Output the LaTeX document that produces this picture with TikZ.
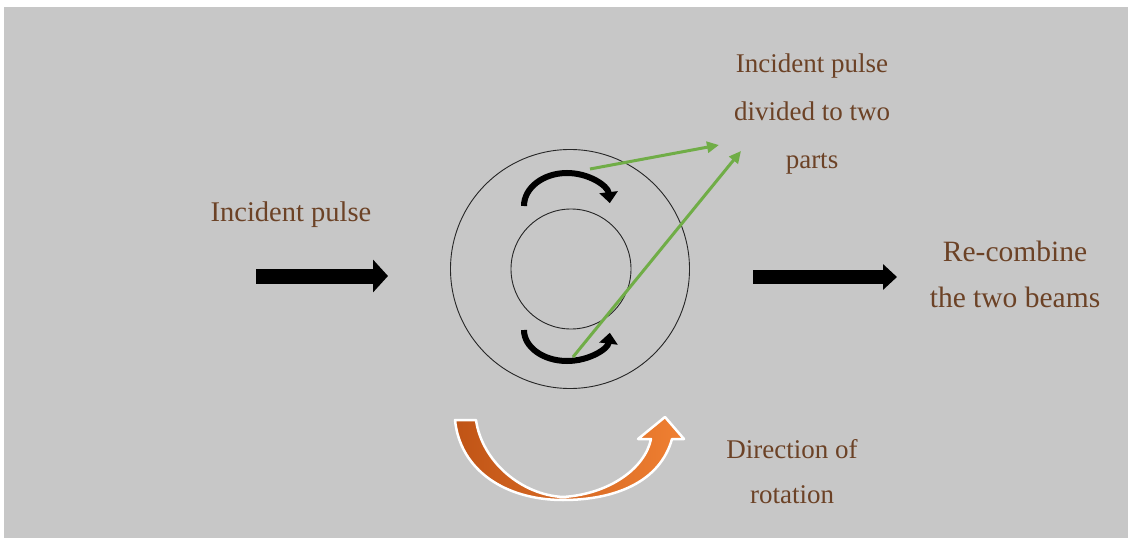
\documentclass[tikz,border=0pt]{standalone}
\usepackage{fontspec}
\setmainfont{Liberation Serif}
\usetikzlibrary{arrows.meta}
\definecolor{bggray}{RGB}{199,199,199}
\definecolor{txtbrown}{RGB}{108,66,38}
\definecolor{beamgreen}{RGB}{112,173,71}
\definecolor{orgdark}{RGB}{192,84,22}
\definecolor{orglight}{RGB}{240,128,50}
\tikzset{
  lbl/.style={text=txtbrown, anchor=base, inner sep=0pt},
  beam/.style={draw=beamgreen, line width=3pt, -{Triangle[width=11pt,length=12pt]}},
  spin/.style={draw=black, line width=6pt, -{Triangle[width=18pt,length=11pt]}},
  ring/.style={circle, draw=black!85, line width=0.9pt, inner sep=0pt},
}
\begin{document}
\begin{tikzpicture}[x=1pt,y=-1pt]
\useasboundingbox (0,0) rectangle (1128,538);
\fill[white] (0,0) rectangle (1128,538);
\fill[bggray] (4,7) rectangle (1128,538);

% rings
\node[ring, minimum size=239pt] (outer) at (570,269) {};
\node[ring, minimum size=120pt] (inner) at (571,269) {};

% rotation arcs inside ring
\draw[spin] (524,206) arc[start angle=180, end angle=5, x radius=43pt, y radius=33pt];
\draw[spin] (524,330) arc[start angle=180, end angle=355, x radius=43pt, y radius=31pt];

% black arrows
\coordinate (la) at (256,276);
\coordinate (lb) at (388,276);
\draw[line width=15pt, -{Triangle[width=32pt,length=15pt]}] (la) -- (lb);
\coordinate (ra) at (753,277);
\coordinate (rb) at (897,277);
\draw[line width=14pt, -{Triangle[width=25pt,length=14pt]}] (ra) -- (rb);

% green beams
\coordinate (g1a) at (590,169);
\coordinate (g1b) at (719,145);
\coordinate (g2a) at (573,357);
\coordinate (g2b) at (741,151);
\draw[beam] (g1a) -- (g1b);
\draw[beam] (g2a) -- (g2b);

% orange rotation arrow
\path[draw=white, line width=2.5pt, line join=round, left color=orgdark, right color=orglight]
  (455,420) -- (476,420)
  .. controls (482,462) and (522,495) .. (563,497)
  .. controls (610,494) and (645,468) .. (651,439)
  -- (638,439) -- (665,417) -- (684,439) -- (672,439)
  .. controls (660,482) and (615,500) .. (563,500)
  .. controls (505,500) and (460,470) .. (455,420) -- cycle;

% labels
\node[lbl, font=\fontsize{28.5}{34}\selectfont] (incident) at (291,221) {Incident pulse};
\node[lbl, font=\fontsize{27}{32}\selectfont] (div1) at (812,72) {Incident pulse};
\node[lbl, font=\fontsize{27}{32}\selectfont] (div2) at (812,120) {divided to two};
\node[lbl, font=\fontsize{27}{32}\selectfont] (div3) at (812,168) {parts};
\node[lbl, font=\fontsize{29.5}{34}\selectfont] (rc1) at (1015,261) {Re-combine};
\node[lbl, font=\fontsize{29.5}{34}\selectfont] (rc2) at (1015,307) {the two beams};
\node[lbl, font=\fontsize{27}{32}\selectfont] (dir1) at (792,458) {Direction of};
\node[lbl, font=\fontsize{27}{32}\selectfont] (dir2) at (792,503) {rotation};
\end{tikzpicture}
\end{document}
